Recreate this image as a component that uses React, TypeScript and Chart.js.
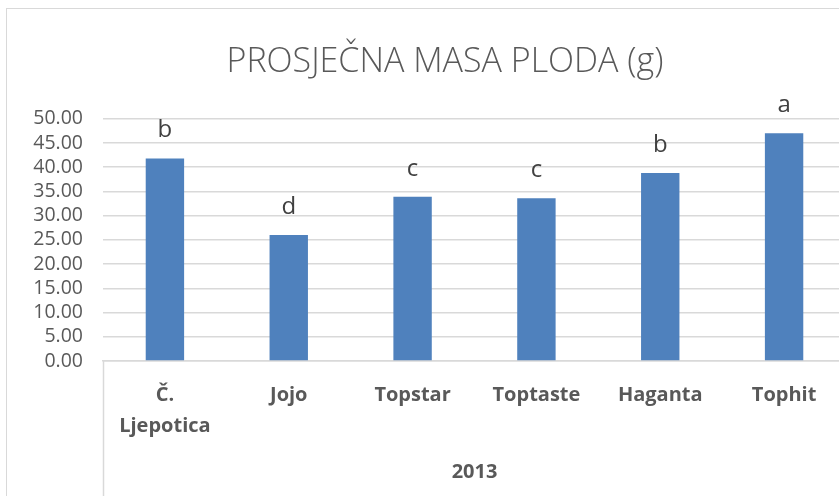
import React, { useEffect, useRef } from "react";
import { Chart, registerables } from "chart.js";

Chart.register(...registerables);

const chartTitle = "PROSJEČNA MASA PLODA (g)";
const categories: (string | string[])[] = [["Č.", "Ljepotica"], "Jojo", "Topstar", "Toptaste", "Haganta", "Tophit"];
const values = [41.8, 26.0, 33.9, 33.6, 38.8, 47.0];
const letters = ["b", "d", "c", "c", "b", "a"];
const groupLabel = "2013";
const yMin = 0;
const yMax = 50;
const yStep = 5;

const FONT = "'Open Sans', 'DejaVu Sans', sans-serif";
const GRID = "#d9d9d9";
const TEXT = "#595959";
const BAR = "#4f81bd";

const letterPlugin = {
  id: "letterPlugin",
  afterDatasetsDraw(chart: any) {
    const ctx = chart.ctx;
    const meta = chart.getDatasetMeta(0);
    ctx.save();
    ctx.font = `400 24px ${FONT}`;
    ctx.fillStyle = "#404040";
    ctx.textAlign = "center";
    ctx.textBaseline = "middle";
    meta.data.forEach((bar: any, i: number) => {
      ctx.fillText(letters[i], bar.x, bar.y - 28);
    });
    ctx.restore();
  },
};

const separatorPlugin = {
  id: "separatorPlugin",
  afterLayout(chart: any) {
    // centre the title on the whole chart frame rather than the padded layout box
    if (chart.titleBlock) {
      chart.titleBlock.left = 0;
      chart.titleBlock.right = chart.width - 4;
    }
  },
  afterDraw(chart: any) {
    const ctx = chart.ctx;
    const { left, right, bottom } = chart.chartArea;
    ctx.save();
    ctx.strokeStyle = GRID;
    ctx.lineWidth = 1.5;
    [left, right].forEach((x: number) => {
      ctx.beginPath();
      ctx.moveTo(Math.round(x) + 0.5, bottom);
      ctx.lineTo(Math.round(x) + 0.5, chart.height);
      ctx.stroke();
    });
    ctx.restore();
  },
};

export default function App() {
  const ref = useRef<HTMLCanvasElement>(null);
  useEffect(() => {
    if (!ref.current) return;
    const chart = new Chart(ref.current, {
      type: "bar",
      data: {
        labels: categories,
        datasets: [
          {
            data: values,
            backgroundColor: BAR,
            borderWidth: 0,
            categoryPercentage: 1,
            barPercentage: 0.31,
          },
        ],
      },
      options: {
        responsive: false,
        animation: false,
        layout: { padding: { left: 0, right: 41, top: 0, bottom: 12 } },
        plugins: {
          legend: { display: false },
          tooltip: { enabled: false },
          title: {
            display: true,
            text: chartTitle,
            color: TEXT,
            font: { family: FONT, size: 34, weight: "300" as any, lineHeight: 1.2 },
            padding: { top: 33, bottom: 36 },
          },
        },
        scales: {
          x: {
            grid: { display: false, drawTicks: false },
            border: { display: true, color: GRID, width: 1.5 },
            ticks: {
              color: TEXT,
              font: { family: FONT, size: 20, weight: "bold", lineHeight: 1.55 },
              padding: 19,
              maxRotation: 0,
              autoSkip: false,
            },
            title: {
              display: true,
              text: groupLabel,
              color: TEXT,
              font: { family: FONT, size: 20, weight: "bold" },
              padding: { top: -1, bottom: 0 },
            },
          },
          y: {
            min: yMin,
            max: yMax,
            afterFit(scale: any) {
              scale.width = 96;
            },
            grid: { color: GRID, lineWidth: 1.5, drawTicks: false },
            border: { display: false },
            ticks: {
              stepSize: yStep,
              autoSkip: false,
              color: TEXT,
              padding: 20,
              font: { family: FONT, size: 19.5 },
              callback: (v: any) => Number(v).toFixed(2),
            },
          },
        },
      },
      plugins: [letterPlugin, separatorPlugin],
    });
    return () => chart.destroy();
  }, []);

  return (
    <div style={{ position: "fixed", left: 0, top: 0, width: 839, height: 496, overflow: "hidden", background: "#fff" }}>
      <div
        style={{
          position: "absolute",
          left: 6,
          top: 8,
          borderTop: `1.5px solid ${GRID}`,
          borderLeft: `1.5px solid ${GRID}`,
        }}
      >
        <canvas ref={ref} width={880} height={487} style={{ display: "block" }} />
      </div>
    </div>
  );
}
